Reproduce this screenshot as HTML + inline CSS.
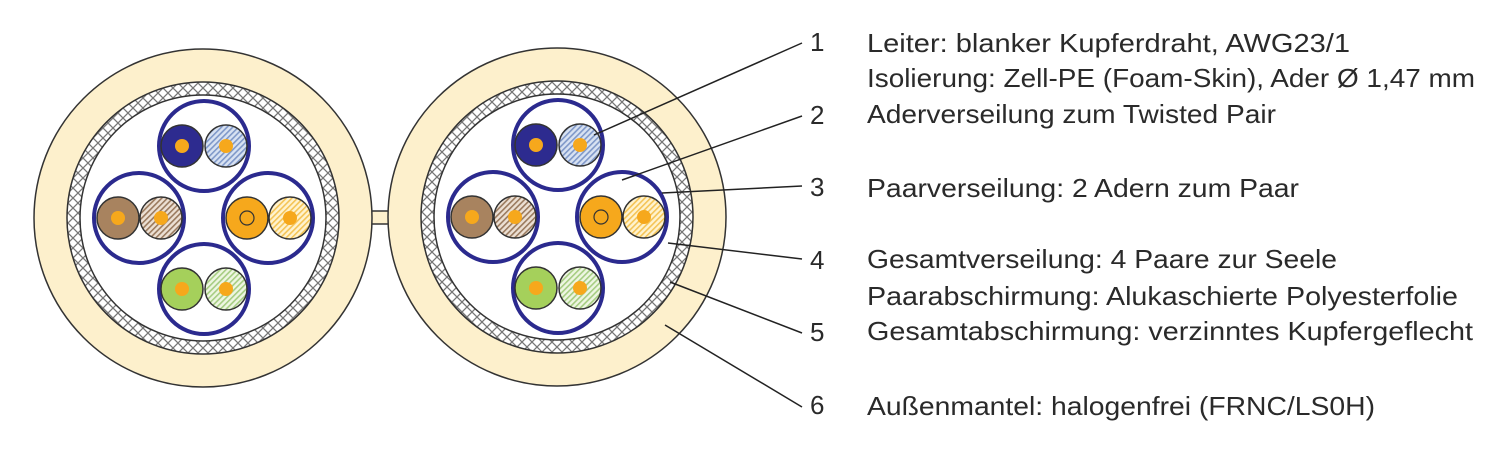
<!DOCTYPE html>
<html><head><meta charset="utf-8"><style>
html,body{margin:0;padding:0;background:#fff;}
svg{display:block;}
text{font-family:"Liberation Sans",sans-serif;fill:#2a2a2a;}
</style></head><body>
<svg width="1500" height="453" viewBox="0 0 1500 453" xmlns="http://www.w3.org/2000/svg">
<defs>
<pattern id="hb" patternUnits="userSpaceOnUse" width="4" height="4" patternTransform="rotate(45)"><rect width="4" height="4" fill="#d8e2f2"/><rect width="1.6" height="4" fill="#7f98c9"/></pattern>
<pattern id="hbr" patternUnits="userSpaceOnUse" width="4" height="4" patternTransform="rotate(45)"><rect width="4" height="4" fill="#ece0d4"/><rect width="1.6" height="4" fill="#9a7a5e"/></pattern>
<pattern id="ho" patternUnits="userSpaceOnUse" width="4" height="4" patternTransform="rotate(45)"><rect width="4" height="4" fill="#fff3cf"/><rect width="1.6" height="4" fill="#f4c456"/></pattern>
<pattern id="hg" patternUnits="userSpaceOnUse" width="4" height="4" patternTransform="rotate(45)"><rect width="4" height="4" fill="#eef6e2"/><rect width="1.6" height="4" fill="#a6cd82"/></pattern>
<pattern id="braid" patternUnits="userSpaceOnUse" width="10" height="10">
<rect width="10" height="10" fill="#fff"/>
<path d="M0 0L10 10M10 0L0 10" stroke="#777" stroke-width="1.3"/></pattern>
<g id="cable">
<circle r="169" fill="#fdf0cc" stroke="#333" stroke-width="1.5"/>
<circle r="136" fill="url(#braid)" stroke="#333" stroke-width="1.5"/>
<circle r="123" fill="#fff" stroke="#333" stroke-width="1.5"/>
<g stroke="#2b2a8e" stroke-width="4" fill="none">
<circle cx="1" cy="-72" r="45"/>
<circle cx="-64" cy="0" r="45"/>
<circle cx="65" cy="0" r="45"/>
<circle cx="1" cy="71" r="45"/>
</g>
<g stroke="#333" stroke-width="1.5">
<circle cx="-21" cy="-72" r="21" fill="#2d2b8f"/>
<circle cx="23" cy="-72" r="21" fill="url(#hb)"/>
<circle cx="-85" cy="0" r="21" fill="#a8835f"/>
<circle cx="-42" cy="0" r="21" fill="url(#hbr)"/>
<circle cx="44" cy="0" r="21" fill="#f6a81c"/>
<circle cx="87" cy="0" r="21" fill="url(#ho)"/>
<circle cx="-21" cy="71" r="21" fill="#a5d05b"/>
<circle cx="23" cy="71" r="21" fill="url(#hg)"/>
</g>
<g fill="#f6a81c">
<circle cx="-21" cy="-72" r="7"/><circle cx="23" cy="-72" r="7"/>
<circle cx="-85" cy="0" r="7"/><circle cx="-42" cy="0" r="7"/>
<circle cx="87" cy="0" r="7"/>
<circle cx="-21" cy="71" r="7"/><circle cx="23" cy="71" r="7"/>
</g>
<circle cx="44" cy="0" r="7" fill="none" stroke="#333" stroke-width="1.2"/>
</g>
</defs>
<rect x="360" y="211" width="40" height="13" fill="#fdf0cc"/>
<line x1="370" y1="211" x2="392" y2="211" stroke="#333" stroke-width="1.5"/>
<line x1="370" y1="224" x2="392" y2="224" stroke="#333" stroke-width="1.5"/>
<use href="#cable" x="203" y="218"/>
<use href="#cable" x="557" y="217"/>
<g stroke="#222" stroke-width="1.5">
<line x1="594" y1="135" x2="802" y2="43"/>
<line x1="622" y1="180" x2="802" y2="116"/>
<line x1="662" y1="193" x2="802" y2="186"/>
<line x1="668" y1="243" x2="802" y2="259"/>
<line x1="670" y1="282" x2="802" y2="333"/>
<line x1="665" y1="325" x2="802" y2="407"/>
</g>
<g font-size="26">
<text x="810" y="51">1</text>
<text x="810" y="124">2</text>
<text x="810" y="196">3</text>
<text x="810" y="269">4</text>
<text x="810" y="341">5</text>
<text x="810" y="414">6</text>
</g>
<g font-size="26">
<text x="867" y="52" textLength="483" lengthAdjust="spacingAndGlyphs">Leiter: blanker Kupferdraht, AWG23/1</text>
<text x="867" y="87" textLength="608" lengthAdjust="spacingAndGlyphs">Isolierung: Zell-PE (Foam-Skin), Ader Ø 1,47 mm</text>
<text x="867" y="123" textLength="409" lengthAdjust="spacingAndGlyphs">Aderverseilung zum Twisted Pair</text>
<text x="867" y="197" textLength="432" lengthAdjust="spacingAndGlyphs">Paarverseilung: 2 Adern zum Paar</text>
<text x="867" y="268" textLength="470" lengthAdjust="spacingAndGlyphs">Gesamtverseilung: 4 Paare zur Seele</text>
<text x="867" y="305" textLength="591" lengthAdjust="spacingAndGlyphs">Paarabschirmung: Alukaschierte Polyesterfolie</text>
<text x="867" y="340" textLength="606" lengthAdjust="spacingAndGlyphs">Gesamtabschirmung: verzinntes Kupfergeflecht</text>
<text x="867" y="415" textLength="508" lengthAdjust="spacingAndGlyphs">Außenmantel: halogenfrei (FRNC/LS0H)</text>
</g>
</svg>
</body></html>
